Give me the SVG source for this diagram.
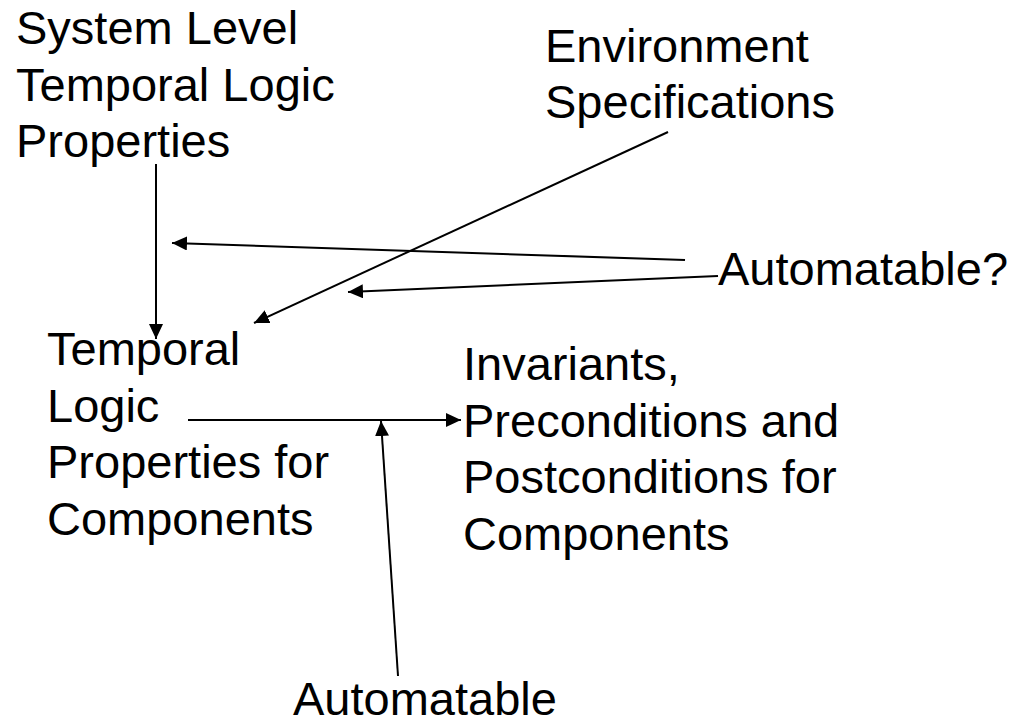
<svg xmlns="http://www.w3.org/2000/svg" width="1018" height="721" viewBox="0 0 1018 721">
  <style>
    text { font-family: "Liberation Sans", Arial, sans-serif; font-size: 47px; fill: #000; }
    .conn line { stroke: #000; stroke-width: 2; fill: none; marker-end: url(#head); }
    .conn line.plain { marker-end: none; }
  </style>
  <defs>
    <marker id="head" markerUnits="userSpaceOnUse" markerWidth="15" markerHeight="14" refX="15" refY="7" orient="auto" viewBox="0 0 15 14">
      <path d="M0,0 L15,7 L0,14 z" fill="#000"/>
    </marker>
  </defs>
  <rect width="1018" height="721" fill="#fff"/>

  <g id="connectors" class="conn">
    <!-- system level properties down to component properties -->
    <line x1="156" y1="164" x2="156" y2="339"/>
    <!-- "Automatable?" pointing at the two refinement steps -->
    <line x1="685" y1="260" x2="172" y2="243"/>
    <line x1="718" y1="276" x2="348" y2="292"/>
    <!-- environment specifications feed component properties -->
    <line x1="668" y1="132" x2="254" y2="323"/>
    <!-- component properties to invariants/pre/postconditions -->
    <line x1="188" y1="420" x2="461" y2="420"/>
    <!-- "Automatable" pointing at the translation step -->
    <line x1="398" y1="676" x2="381" y2="421"/>
  </g>

  <g id="system-properties">
    <text x="16" y="44">System Level</text>
    <text x="16" y="100.5">Temporal Logic</text>
    <text x="16" y="157">Properties</text>
  </g>

  <g id="environment-specs">
    <text x="545" y="62">Environment</text>
    <text x="545" y="118">Specifications</text>
  </g>

  <g id="automatable-q">
    <text x="718" y="285">Automatable?</text>
  </g>

  <g id="component-properties">
    <text x="47" y="365">Temporal</text>
    <text x="47" y="422">Logic</text>
    <text x="47" y="478">Properties for</text>
    <text x="47" y="535">Components</text>
  </g>

  <g id="component-contracts">
    <text x="463" y="380">Invariants,</text>
    <text x="463" y="437">Preconditions and</text>
    <text x="463" y="493">Postconditions for</text>
    <text x="463" y="550">Components</text>
  </g>

  <g id="automatable">
    <text x="293" y="715">Automatable</text>
  </g>
</svg>
